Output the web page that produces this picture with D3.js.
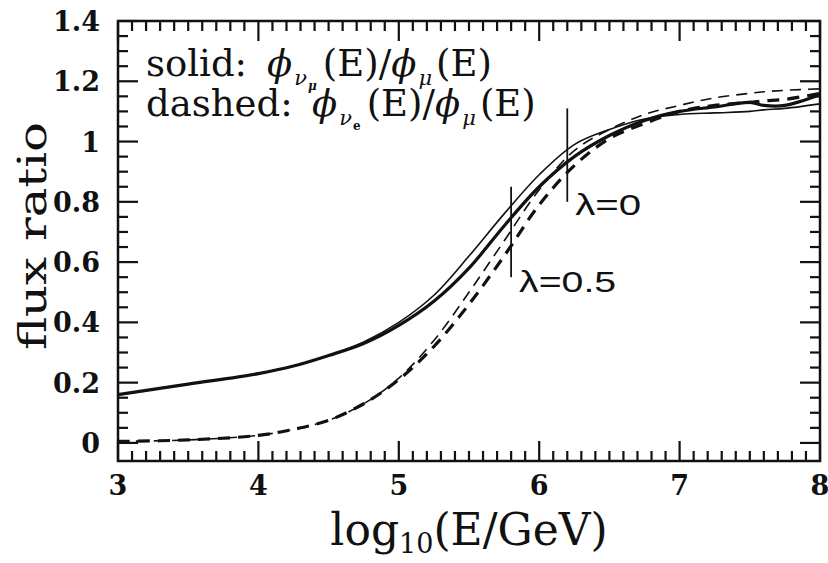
<!DOCTYPE html>
<html>
<head>
<meta charset="utf-8">
<script src="https://cdn.jsdelivr.net/npm/d3@7"></script>
<style>
  body { margin: 0; background: #fff; }
  svg { display: block; }
</style>
</head>
<body>
<svg id="chart"></svg>
<script>
// values
var energies = [3, 3.5, 4, 4.25, 4.5, 4.75, 5, 5.25, 5.5, 5.75, 6, 6.25, 6.5, 6.75, 7, 7.25, 7.5, 7.6, 7.75, 8];
var solidThick = [0.16, 0.195, 0.23, 0.255, 0.29, 0.33, 0.39, 0.47, 0.58, 0.72, 0.85, 0.95, 1.02, 1.07, 1.10, 1.115, 1.13, 1.12, 1.12, 1.155];
var solidThin  = [0.16, 0.195, 0.23, 0.255, 0.29, 0.335, 0.40, 0.49, 0.62, 0.76, 0.89, 0.99, 1.04, 1.075, 1.09, 1.095, 1.10, 1.105, 1.11, 1.125];
var dashedThick = [0.005, 0.01, 0.025, 0.045, 0.075, 0.13, 0.21, 0.32, 0.46, 0.62, 0.79, 0.92, 1.01, 1.06, 1.10, 1.12, 1.13, 1.135, 1.14, 1.16];
var dashedThin  = [0.005, 0.01, 0.025, 0.045, 0.075, 0.13, 0.215, 0.34, 0.50, 0.67, 0.84, 0.97, 1.04, 1.09, 1.12, 1.145, 1.16, 1.165, 1.17, 1.175];

var xTicks = [3, 4, 5, 6, 7, 8];
var xTickLabels = ["3", "4", "5", "6", "7", "8"];
var yTicks = [0, 0.2, 0.4, 0.6, 0.8, 1, 1.2, 1.4];
var yTickLabels = ["0", "0.2", "0.4", "0.6", "0.8", "1", "1.2", "1.4"];

var markers = [
  {x: 6.2, y0: 0.8, y1: 1.11, label: "\u03bb=0", ly: 0.755, len: 66},
  {x: 5.8, y0: 0.55, y1: 0.85, label: "\u03bb=0.5", ly: 0.5, len: 97}
];

var screen = {width: 828, height: 563};
var margins = {top: 21, bottom: 102, left: 118, right: 8};
var width = screen.width - margins.left - margins.right;
var height = screen.height - margins.top - margins.bottom;

var svg = d3.select("svg#chart")
            .attr("width", screen.width)
            .attr("height", screen.height);

var xScale = d3.scaleLinear().domain([3, 8]).range([0, width]);
var yScale = d3.scaleLinear().domain([-0.06, 1.4]).range([height, 0]);

var ink = "#111";
var serif = "'DejaVu Serif', serif";

var plot = svg.append("g")
              .attr("transform", "translate(" + margins.left + "," + margins.top + ")");

// frame
plot.append("rect")
    .attr("x", 0).attr("y", 0)
    .attr("width", width).attr("height", height)
    .style("fill", "none").style("stroke", ink).style("stroke-width", "2.5px");

// tick marks, pointing inward on all four sides
var xMinor = d3.range(30, 81).map(function(d){ return d / 10; });
var yMinor = d3.range(0, 29).map(function(d){ return d * 0.05; });

function xLen(v){ return Math.abs(v - Math.round(v)) < 1e-6 ? 20 : 10; }
function yLen(v){ return Math.abs(v * 5 - Math.round(v * 5)) < 1e-6 ? 20 : 10; }

var tickG = plot.append("g").attr("class", "ticks").attr("fill", ink);
xMinor.forEach(function(v){
  var x = xScale(v);
  tickG.append("rect").attr("x", x - 1.1).attr("y", height - xLen(v)).attr("width", 2.2).attr("height", xLen(v));
  tickG.append("rect").attr("x", x - 1.1).attr("y", 0).attr("width", 2.2).attr("height", xLen(v));
});
yMinor.forEach(function(v){
  var y = yScale(v);
  tickG.append("rect").attr("x", 0).attr("y", y - 1.1).attr("width", yLen(v)).attr("height", 2.2);
  tickG.append("rect").attr("x", width - yLen(v)).attr("y", y - 1.1).attr("width", yLen(v)).attr("height", 2.2);
});

// tick labels
plot.selectAll("text.xlab").data(xTicks).enter().append("text")
    .attr("class", "xlab")
    .attr("x", function(d){ return xScale(d); })
    .attr("y", height + 34)
    .attr("text-anchor", "middle")
    .attr("fill", ink)
    .style("font-family", serif).style("font-weight", "bold").style("font-size", "27px")
    .text(function(d, i){ return xTickLabels[i]; });

plot.selectAll("text.ylab").data(yTicks).enter().append("text")
    .attr("class", "ylab")
    .attr("x", -18)
    .attr("y", function(d){ return yScale(d) + 10; })
    .attr("text-anchor", "end")
    .attr("fill", ink)
    .style("font-family", serif).style("font-weight", "bold").style("font-size", "27px")
    .text(function(d, i){ return yTickLabels[i]; });

// curves
var line = d3.line()
             .x(function(d){ return xScale(d[0]); })
             .y(function(d){ return yScale(d[1]); })
             .curve(d3.curveCatmullRom);

var series = [
  {values: solidThin, w: 1.6, dash: null},
  {values: dashedThin, w: 1.6, dash: "11,7"},
  {values: solidThick, w: 3.2, dash: null},
  {values: dashedThick, w: 3.2, dash: "12,8"}
];

plot.selectAll("path.curve")
    .data(series)
    .enter()
    .append("path")
    .classed("curve", true)
    .attr("d", function(s){ return line(energies.map(function(e, i){ return [e, s.values[i]]; })); })
    .attr("fill", "none")
    .attr("stroke", ink)
    .attr("stroke-width", function(s){ return s.w; })
    .attr("stroke-dasharray", function(s){ return s.dash; });

// lambda markers
var mk = plot.selectAll("g.marker")
             .data(markers)
             .enter()
             .append("g")
             .classed("marker", true);
mk.append("line")
  .attr("x1", function(d){ return xScale(d.x); })
  .attr("x2", function(d){ return xScale(d.x); })
  .attr("y1", function(d){ return yScale(d.y0); })
  .attr("y2", function(d){ return yScale(d.y1); })
  .attr("stroke", ink).attr("stroke-width", 1.8);
mk.append("text")
  .attr("x", function(d){ return xScale(d.x) + 8; })
  .attr("y", function(d){ return yScale(d.ly); })
  .attr("textLength", function(d){ return d.len; })
  .attr("lengthAdjust", "spacingAndGlyphs")
  .attr("fill", ink)
  .style("font-family", "'Liberation Sans', Arial, sans-serif")
  .style("font-size", "30px")
  .text(function(d){ return d.label; });

// legend text
var phi = "\u03d5";
var leg = plot.append("g").attr("fill", ink).style("font-family", serif).style("font-size", "37px");

function legendLine(y, word, phiX, sub) {
  var t = leg.append("text").attr("x", 28).attr("y", y);
  t.append("tspan").text(word);
  t.append("tspan").attr("x", phiX).style("font-style", "italic").text(phi);
  t.append("tspan").attr("dy", 9).attr("dx", 2).style("font-size", "21px").style("font-style", "italic").text("\u03bd");
  t.append("tspan").attr("dy", 5).attr("dx", 1).style("font-size", "12px").style("font-weight", "bold")
   .style("font-style", sub == "e" ? "normal" : "italic").text(sub);
  t.append("tspan").attr("dy", -14).attr("dx", 6).text("(E)/");
  t.append("tspan").style("font-style", "italic").text(phi);
  t.append("tspan").attr("dy", 9).attr("dx", 2).style("font-size", "21px").style("font-style", "italic").text("\u03bc");
  t.append("tspan").attr("dy", -9).attr("dx", 4).text("(E)");
}
legendLine(55, "solid:", 149, "\u03bc");
legendLine(95, "dashed:", 194, "e");

// axis titles
var xt = svg.append("text")
            .attr("x", margins.left + width / 2)
            .attr("y", 545)
            .attr("text-anchor", "middle")
            .attr("fill", ink)
            .style("font-family", serif)
            .style("font-size", "44px");
xt.append("tspan").text("log");
xt.append("tspan").attr("dy", 8).style("font-size", "27px").text("10");
xt.append("tspan").attr("dy", -8).text("(E/GeV)");

svg.append("text")
   .attr("transform", "translate(46,236) rotate(-90)")
   .attr("text-anchor", "middle")
   .attr("textLength", 228)
   .attr("lengthAdjust", "spacingAndGlyphs")
   .attr("fill", ink)
   .style("font-family", serif)
   .style("font-size", "40px")
   .text("flux ratio");
</script>
</body>
</html>
